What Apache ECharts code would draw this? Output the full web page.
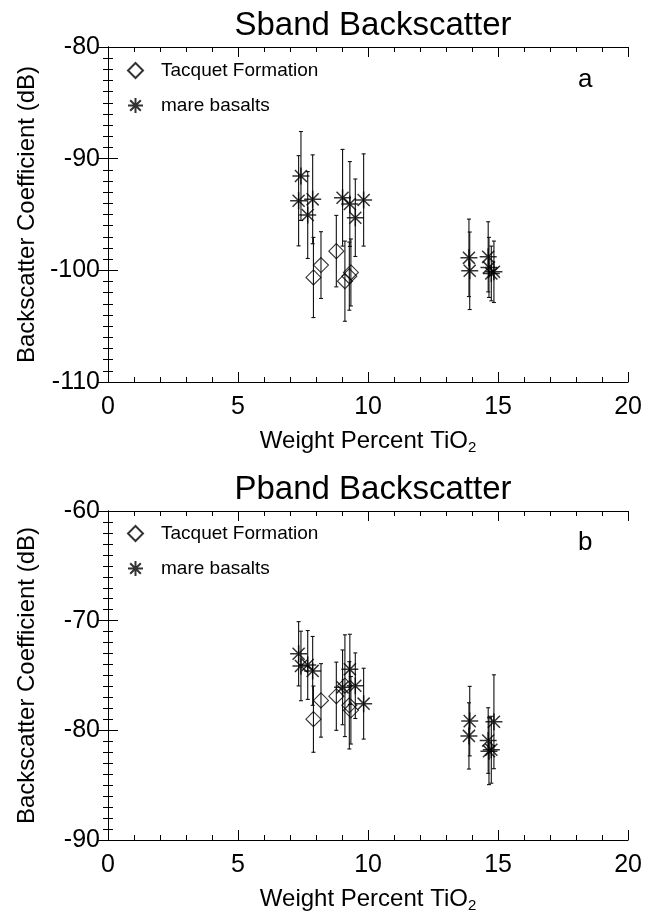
<!DOCTYPE html>
<html>
<head>
<meta charset="utf-8">
<script src="https://cdn.jsdelivr.net/npm/echarts@6/dist/echarts.min.js"></script>
<style>
  html, body { margin: 0; padding: 0; background: #fff; }
  #chart { width: 645px; height: 914px; }
</style>
</head>
<body>
<div id="chart"></div>
<script>
// TiO2 weight percent of each sample
var tacquetTi = [7.90, 8.19, 8.78, 9.11, 9.28, 9.34];
var mareTi = [7.33, 7.42, 7.68, 7.87, 9.02, 9.30, 9.51, 9.83, 13.88, 13.91, 14.62, 14.65, 14.74, 14.84];

// S band backscatter (dB) and error
var sbandTacquet = [-100.64, -99.53, -98.28, -100.97, -100.52, -100.19];
var sbandTacquetErr = [3.59, 2.99, 3.20, 3.59, 3.05, 3.00];
var sbandMare = [-93.77, -91.55, -95.05, -93.64, -93.50, -94.06, -95.29, -93.70, -98.88, -100.04, -98.79, -99.74, -100.28, -100.13];
var sbandMareErr = [4.04, 3.98, 3.89, 3.98, 4.33, 3.80, 3.47, 4.13, 3.47, 3.47, 3.14, 2.69, 2.45, 2.75];

// P band backscatter (dB) and error
var pbandTacquet = [-78.98, -77.27, -76.89, -75.93, -77.72, -78.17];
var pbandTacquetErr = [3.02, 3.35, 3.11, 4.64, 3.98, 3.08];
var pbandMare = [-73.02, -74.13, -74.04, -74.58, -76.08, -74.44, -75.93, -77.57, -80.51, -79.16, -80.93, -81.90, -81.77, -79.22];
var pbandMareErr = [2.93, 3.17, 3.14, 3.14, 3.41, 3.20, 2.99, 3.23, 3.02, 3.17, 2.99, 3.05, 3.05, 4.28];

var seriesNames = ['Tacquet Formation', 'mare basalts'];

var FONT = '"Liberation Sans", Arial, Helvetica, sans-serif';
var asteriskPath = 'path://M10,0L10,20M0,10L20,10M2.9,2.9L17.1,17.1M2.9,17.1L17.1,2.9';

var zip = function(xs, ys, es) {
    return xs.map(function(x, i) { return es ? [x, ys[i], es[i]] : [x, ys[i]]; });
};

// Error bar with small caps
var renderErrorBar = function(params, api) {
    var x = api.value(0), y = api.value(1), e = api.value(2);
    var hi = api.coord([x, y + e]);
    var lo = api.coord([x, y - e]);
    var w = 2;
    var st = { stroke: '#111', lineWidth: 1.1 };
    return {
        type: 'group',
        children: [
            { type: 'line', shape: { x1: hi[0], y1: hi[1], x2: lo[0], y2: lo[1] }, style: st },
            { type: 'line', shape: { x1: hi[0] - w, y1: hi[1], x2: hi[0] + w, y2: hi[1] }, style: st },
            { type: 'line', shape: { x1: lo[0] - w, y1: lo[1], x2: lo[0] + w, y2: lo[1] }, style: st }
        ]
    };
};

var grids = [
    { left: 108, top: 47, width: 521, height: 335 },
    { left: 108, top: 511, width: 521, height: 334 }
];

var makeXAxes = function(g) {
    var base = {
        gridIndex: g, type: 'value', min: 0, max: 20, interval: 5,
        axisLine: { show: true, lineStyle: { color: '#000', width: 1 } },
        axisTick: { show: true, inside: true, length: 10, lineStyle: { color: '#000' } },
        minorTick: { show: true, splitNumber: 5, length: 5, lineStyle: { color: '#000' } },
        splitLine: { show: false }
    };
    var bottom = Object.assign({}, base, {
        position: 'bottom',
        axisLabel: { color: '#000', fontSize: 25, fontFamily: FONT, margin: 13 },
        name: '{a|Weight Percent TiO}{s|2}',
        nameLocation: 'middle',
        nameGap: 45,
        nameTextStyle: {
            color: '#000', fontFamily: FONT,
            rich: {
                a: { fontSize: 24, fontFamily: FONT, color: '#000', lineHeight: 28 },
                s: { fontSize: 15, fontFamily: FONT, color: '#000', lineHeight: 10, verticalAlign: 'bottom' }
            }
        }
    });
    var top = Object.assign({}, base, { position: 'top', axisLabel: { show: false } });
    return [bottom, top];
};

var makeYAxes = function(g, min, max) {
    var base = {
        gridIndex: g, type: 'value', min: min, max: max, interval: 10,
        axisLine: { show: true, lineStyle: { color: '#000', width: 1 } },
        axisTick: { show: true, inside: true, length: 10, lineStyle: { color: '#000' } },
        minorTick: { show: true, splitNumber: 10, length: 5, lineStyle: { color: '#000' } },
        splitLine: { show: false }
    };
    var left = Object.assign({}, base, {
        position: 'left',
        axisLabel: { color: '#000', fontSize: 25, fontFamily: FONT, margin: 8 },
        name: 'Backscatter Coefficient (dB)',
        nameLocation: 'middle',
        nameGap: 69,
        nameTextStyle: { color: '#000', fontSize: 24, fontFamily: FONT }
    });
    var right = Object.assign({}, base, { position: 'right', axisLabel: { show: false } });
    return [left, right];
};

var makeSeries = function(g, tac, tacErr, mare, mareErr) {
    var ax = { xAxisIndex: g * 2, yAxisIndex: g * 2 };
    return [
        Object.assign({
            type: 'custom', name: 'err' + g + 't', renderItem: renderErrorBar,
            encode: { x: 0, y: [1] }, data: zip(tacquetTi, tac, tacErr), z: 1, silent: true
        }, ax),
        Object.assign({
            type: 'custom', name: 'err' + g + 'm', renderItem: renderErrorBar,
            encode: { x: 0, y: [1] }, data: zip(mareTi, mare, mareErr), z: 1, silent: true
        }, ax),
        Object.assign({
            type: 'scatter', name: seriesNames[0], symbol: 'diamond', symbolSize: 15,
            itemStyle: { color: 'rgba(0,0,0,0)', borderColor: '#000', borderWidth: 1.1 },
            data: zip(tacquetTi, tac), z: 3
        }, ax),
        Object.assign({
            type: 'scatter', name: seriesNames[1], symbol: asteriskPath, symbolSize: 17,
            itemStyle: { color: 'rgba(0,0,0,0)', borderColor: '#000', borderWidth: 1.5 },
            data: zip(mareTi, mare), z: 3
        }, ax)
    ];
};

var makeLegend = function(top) {
    return {
        orient: 'vertical', left: 122, top: top,
        itemWidth: 15, itemHeight: 15, itemGap: 16,
        data: seriesNames,
        selectedMode: false,
        textStyle: { color: '#000', fontSize: 19, fontFamily: FONT, padding: [0, 0, 0, 13] }
    };
};

var chart = echarts.init(document.getElementById('chart'));

chart.setOption({
    animation: false,
    backgroundColor: '#fff',
    title: [
        { text: 'Sband Backscatter', left: 368, top: 4, textAlign: 'center',
          textStyle: { color: '#000', fontSize: 33, fontWeight: 'normal', fontFamily: FONT } },
        { text: 'Pband Backscatter', left: 368, top: 468, textAlign: 'center',
          textStyle: { color: '#000', fontSize: 33, fontWeight: 'normal', fontFamily: FONT } },
        { text: 'a', left: 573, top: 62,
          textStyle: { color: '#000', fontSize: 26, fontWeight: 'normal', fontFamily: FONT } },
        { text: 'b', left: 573, top: 525,
          textStyle: { color: '#000', fontSize: 26, fontWeight: 'normal', fontFamily: FONT } }
    ],
    legend: [makeLegend(56), makeLegend(519)],
    grid: grids,
    xAxis: makeXAxes(0).concat(makeXAxes(1)),
    yAxis: makeYAxes(0, -110, -80).concat(makeYAxes(1, -90, -60)),
    series: makeSeries(0, sbandTacquet, sbandTacquetErr, sbandMare, sbandMareErr)
        .concat(makeSeries(1, pbandTacquet, pbandTacquetErr, pbandMare, pbandMareErr))
});
</script>
</body>
</html>
